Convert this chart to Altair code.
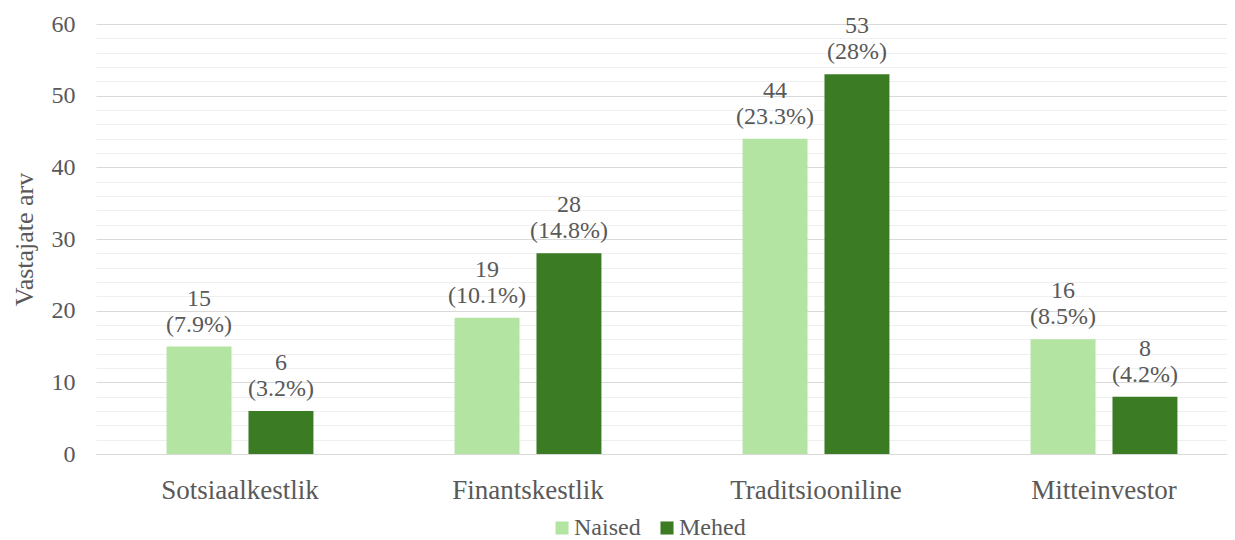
import altair as alt
import pandas as pd

categories = ["Sotsiaalkestlik", "Finantskestlik", "Traditsiooniline", "Mitteinvestor"]
series = ["Naised", "Mehed"]
naised = [15, 19, 44, 16]
mehed = [6, 28, 53, 8]
naised_pct = ["7.9%", "10.1%", "23.3%", "8.5%"]
mehed_pct = ["3.2%", "14.8%", "28%", "4.2%"]

rows = []
for i, c in enumerate(categories):
    rows.append({"cat": c, "sugu": "Naised", "v": naised[i], "lbl": f"{naised[i]}\n({naised_pct[i]})"})
    rows.append({"cat": c, "sugu": "Mehed", "v": mehed[i], "lbl": f"{mehed[i]}\n({mehed_pct[i]})"})
df = pd.DataFrame(rows)

FONT = "Liberation Serif"
GRAY = "#595959"

x = alt.X("cat:N", sort=categories, title=None,
          scale=alt.Scale(range=[0, 1152], paddingInner=0.49, paddingOuter=0.245),
          axis=alt.Axis(labelAngle=0, labelFont=FONT, labelFontSize=27, labelColor=GRAY,
                        labelPadding=23, ticks=False, domainColor="#d9d9d9", grid=False))
xo = alt.XOffset("sugu:N", sort=series, scale=alt.Scale(paddingInner=0.207, paddingOuter=0))
y = alt.Y("v:Q", title="Vastajate arv",
          scale=alt.Scale(domain=[0, 60], nice=False),
          axis=alt.Axis(values=list(range(0, 61, 2)), tickCount=40,
                        labelExpr="datum.value % 10 === 0 ? datum.label : ''",
                        labelOverlap=False,
                        labelFont=FONT, labelFontSize=24, labelColor=GRAY, labelPadding=21,
                        titleFont=FONT, titleFontSize=26, titleColor=GRAY, titleFontWeight="normal",
                        titlePadding=14, ticks=False, domain=False,
                        gridColor={"condition": {"test": "datum.value % 10 === 0", "value": "#d9d9d9"},
                                   "value": "#efefef"}))
color = alt.Color("sugu:N", sort=series,
                  scale=alt.Scale(domain=series, range=["#b4e4a2", "#3b7b23"]),
                  legend=alt.Legend(title=None, orient="none", direction="horizontal",
                                    legendX=454, legendY=492, symbolType="square", symbolSize=170,
                                    symbolStrokeWidth=0, labelFont=FONT, labelFontSize=24,
                                    labelColor=GRAY, labelOffset=0, columnPadding=14, padding=0))

bars = alt.Chart(df).mark_bar().encode(x=x, xOffset=xo, y=y, color=color)
text = alt.Chart(df).mark_text(font=FONT, fontSize=24, color=GRAY, baseline="bottom",
                               lineBreak="\n", lineHeight=26, dy=-36).encode(
    x=alt.X("cat:N", sort=categories),
    xOffset=alt.XOffset("sugu:N", sort=series),
    y=alt.Y("v:Q"), text="lbl:N")

chart = (bars + text).properties(
    width=1131, height=430,
    autosize=alt.AutoSizeParams(type="none"),
    padding={"left": 88, "top": 16, "right": 0, "bottom": 86},
    background="white",
).configure_view(strokeWidth=0, stroke="transparent")

chart.save("out.html", embed_options={"renderer": "svg", "actions": False})
